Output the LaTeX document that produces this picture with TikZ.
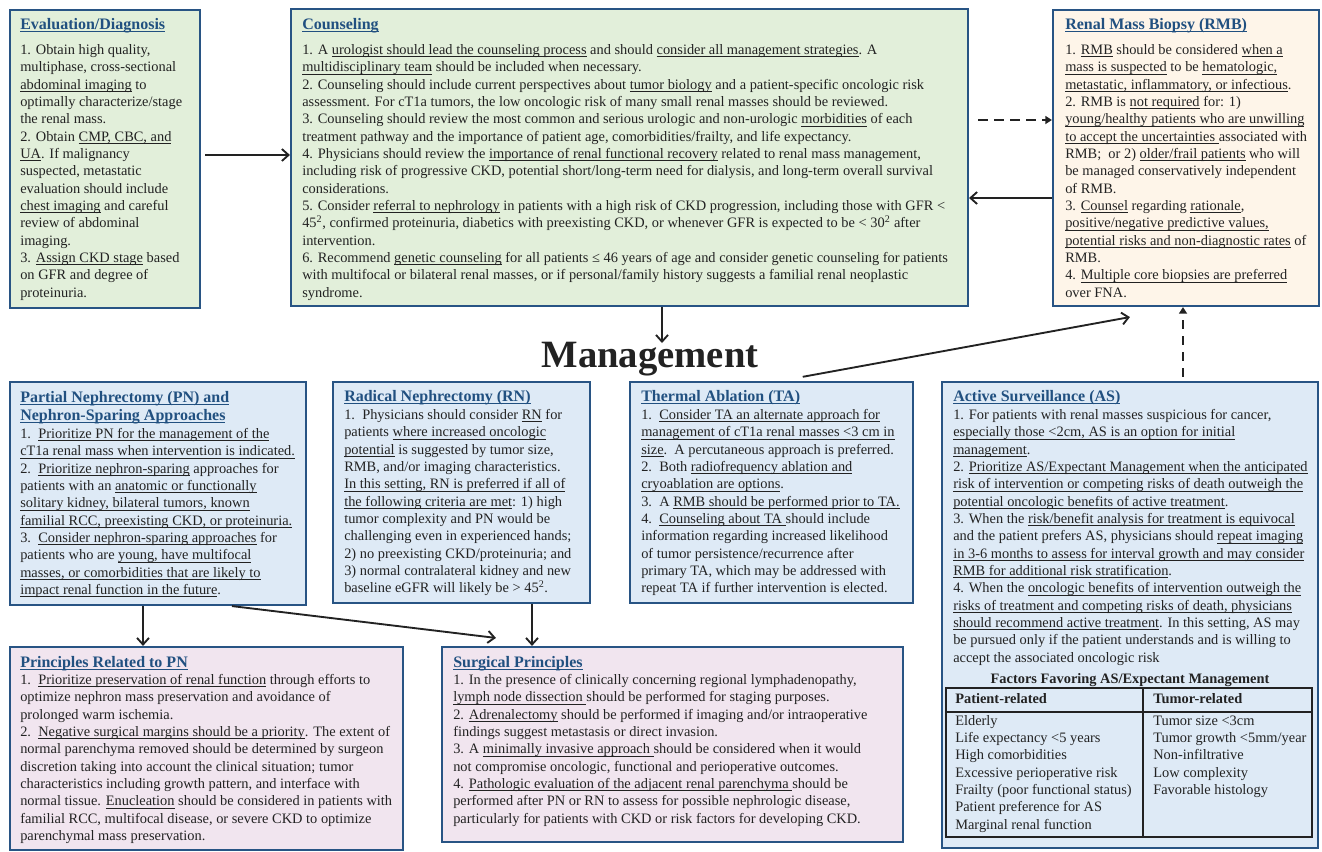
\documentclass[tikz,border=0pt]{standalone}
\usepackage{fontspec}
\setmainfont{Liberation Serif}
\usetikzlibrary{arrows.meta,fit,calc}
\newsavebox{\ulbox}
\newcommand{\uline}[1]{\sbox{\ulbox}{#1}\rlap{\rule[-1.9pt]{\wd\ulbox}{0.55pt}}\usebox{\ulbox}}
\definecolor{bordc}{RGB}{40,84,132}
\definecolor{ttlc}{RGB}{33,80,128}
\definecolor{txtc}{RGB}{34,34,34}
\definecolor{gfill}{RGB}{226,239,218}
\definecolor{pfill}{RGB}{254,245,233}
\definecolor{bfill}{RGB}{222,234,246}
\definecolor{kfill}{RGB}{241,229,239}
\newcommand{\bodyfnt}{\fontsize{10.8}{13}\selectfont}
\newcommand{\ttlfnt}{\fontsize{12}{13.7}\selectfont\bfseries}
\tikzset{
  box/.style={draw=bordc, line width=1.6pt, inner sep=0pt},
  gbox/.style={box, fill=gfill},
  pbox/.style={box, fill=pfill},
  bbox/.style={box, fill=bfill},
  kbox/.style={box, fill=kfill},
  body/.style={anchor=north west, inner sep=0pt, align=left, font=\bodyfnt, text=txtc},
  ttl/.style={anchor=base west, inner sep=0pt, font=\ttlfnt, text=ttlc},
  ttlm/.style={anchor=north west, inner sep=0pt, align=left, font=\ttlfnt, text=ttlc},
  cell/.style={anchor=base west, inner sep=0pt, font=\bodyfnt, text=txtc},
  arr/.style={line width=1.4pt, draw=txtc, -{Straight Barb[length=5pt,width=9pt]}},
  darr/.style={line width=1.4pt, draw=txtc, dash pattern=on 7pt off 5pt, -{Triangle[length=5pt,width=6pt]}},
  tbl/.style={draw=txtc, line width=1pt}
}
\begin{document}
\begin{tikzpicture}[x=0.75pt,y=-0.75pt]
\useasboundingbox (0,0) rectangle (1322,851);
% ---------- boxes ----------
\node[gbox, fit={(10,10) (200,308)}] (eval) {};
\node[gbox, fit={(291,9) (968,306)}] (couns) {};
\node[pbox, fit={(1053,10) (1319,306)}] (rmb) {};
\node[bbox, fit={(10,382) (306,605)}] (pn) {};
\node[bbox, fit={(333,382) (590,603)}] (rn) {};
\node[bbox, fit={(630,382) (913,603)}] (ta) {};
\node[bbox, fit={(942,382) (1318,848)}] (as) {};
\node[kbox, fit={(10,647) (403,850)}] (ppn) {};
\node[kbox, fit={(442,647) (903,842)}] (surg) {};
% ---------- Evaluation ----------
\node[ttl] (evalT) at (20,29.5) {\uline{Evaluation/Diagnosis}};
\node[body] (evalB) at (20,42) {\strut 1. Obtain high quality,\\
multiphase, cross-sectional\\
\uline{abdominal imaging} to\\
optimally characterize/stage\\
the renal mass.\\
2. Obtain \uline{CMP, CBC, and}\\
\uline{UA}. If malignancy\\
suspected, metastatic\\
evaluation should include\\
\uline{chest imaging} and careful\\
review of abdominal\\
imaging.\\
3. \uline{Assign CKD stage} based\\
on GFR and degree of\\
proteinuria.};
% ---------- Counseling ----------
\node[ttl] (counsT) at (302,29.5) {\uline{Counseling}};
\node[body] (counsB) at (302,42) {\strut 1. A \uline{urologist should lead the counseling process} and should \uline{consider all management strategies}. A\\
\uline{multidisciplinary team} should be included when necessary.\\
2. Counseling should include current perspectives about \uline{tumor biology} and a patient-specific oncologic risk\\
assessment. For cT1a tumors, the low oncologic risk of many small renal masses should be reviewed.\\
3. Counseling should review the most common and serious urologic and non-urologic \uline{morbidities} of each\\
treatment pathway and the importance of patient age, comorbidities/frailty, and life expectancy.\\
4. Physicians should review the \uline{importance of renal functional recovery} related to renal mass management,\\
including risk of progressive CKD, potential short/long-term need for dialysis, and long-term overall survival\\
considerations.\\
5. Consider \uline{referral to nephrology} in patients with a high risk of CKD progression, including those with GFR <\\
45\textsuperscript{2}, confirmed proteinuria, diabetics with preexisting CKD, or whenever GFR is expected to be < 30\textsuperscript{2} after\\
intervention.\\
6. Recommend \uline{genetic counseling} for all patients ≤ 46 years of age and consider genetic counseling for patients\\
with multifocal or bilateral renal masses, or if personal/family history suggests a familial renal neoplastic\\
syndrome.};
% ---------- RMB ----------
\node[ttl] (rmbT) at (1065,29.5) {\uline{Renal Mass Biopsy (RMB)}};
\node[body] (rmbB) at (1065,42) {\strut 1. \uline{RMB} should be considered \uline{when a}\\
\uline{mass is suspected} to be \uline{hematologic,}\\
\uline{metastatic, inflammatory, or infectious}.\\
2. RMB is \uline{not required} for: 1)\\
\uline{young/healthy patients who are unwilling}\\
\uline{to accept the uncertainties\ }associated with\\
RMB;\ \ or 2) \uline{older/frail patients} who will\\
be managed conservatively independent\\
of RMB.\\
3. \uline{Counsel} regarding \uline{rationale},\\
\uline{positive/negative predictive values,}\\
\uline{potential risks and non-diagnostic rates} of\\
RMB.\\
4. \uline{Multiple core biopsies are preferred}\\
over FNA.};
% ---------- Management ----------
\node[anchor=base, inner sep=0pt, text=txtc, font=\fontsize{29}{32}\selectfont\bfseries] (mgmt) at (650,367) {Management};
% ---------- PN ----------
\node[ttlm] (pnT) at (20,389) {\strut\uline{Partial Nephrectomy (PN) and}\\\uline{Nephron-Sparing Approaches}};
\node[body] (pnB) at (20,426) {\strut 1.\ \ \uline{Prioritize PN for the management of the}\\
\uline{cT1a renal mass when intervention is indicated.}\\
2.\ \ \uline{Prioritize nephron-sparing} approaches for\\
patients with an \uline{anatomic or functionally}\\
\uline{solitary kidney, bilateral tumors, known}\\
\uline{familial RCC, preexisting CKD, or proteinuria.}\\
3.\ \ \uline{Consider nephron-sparing approaches} for\\
patients who are \uline{young, have multifocal}\\
\uline{masses, or comorbidities that are likely to}\\
\uline{impact renal function in the future}.};
% ---------- RN ----------
\node[ttl] (rnT) at (344,401) {\uline{Radical Nephrectomy (RN)}};
\node[body] (rnB) at (344,407) {\strut 1.\ \ Physicians should consider \uline{RN} for\\
patients \uline{where increased oncologic}\\
\uline{potential} is suggested by tumor size,\\
RMB, and/or imaging characteristics.\\
\uline{In this setting, RN is preferred if all of}\\
\uline{the following criteria are met}: 1) high\\
tumor complexity and PN would be\\
challenging even in experienced hands;\\
2) no preexisting CKD/proteinuria; and\\
3) normal contralateral kidney and new\\
baseline eGFR will likely be > 45\textsuperscript{2}.};
% ---------- TA ----------
\node[ttl] (taT) at (641,401) {\uline{Thermal Ablation (TA)}};
\node[body] (taB) at (641,407) {\strut 1.\ \ \uline{Consider TA an alternate approach for}\\
\uline{management of cT1a renal masses <3 cm in}\\
\uline{size}.\ \ A percutaneous approach is preferred.\\
2.\ \ Both \uline{radiofrequency ablation and}\\
\uline{cryoablation are options}.\\
3.\ \ A \uline{RMB should be performed prior to TA.}\\
4.\ \ \uline{Counseling about TA\ }should include\\
information regarding increased likelihood\\
of tumor persistence/recurrence after\\
primary TA, which may be addressed with\\
repeat TA if further intervention is elected.};
% ---------- AS ----------
\node[ttl] (asT) at (953,401) {\uline{Active Surveillance (AS)}};
\node[body] (asB) at (953,407) {\strut 1. For patients with renal masses suspicious for cancer,\\
\uline{especially those <2cm, AS is an option for initial}\\
\uline{management}.\\
2. \uline{Prioritize AS/Expectant Management when the anticipated}\\
\uline{risk of intervention or competing risks of death outweigh the}\\
\uline{potential oncologic benefits of active treatment}.\\
3. When the \uline{risk/benefit analysis for treatment is equivocal}\\
and the patient prefers AS, physicians should \uline{repeat imaging}\\
\uline{in 3-6 months to assess for interval growth and may consider}\\
\uline{RMB for additional risk stratification}.\\
4. When the \uline{oncologic benefits of intervention outweigh the}\\
\uline{risks of treatment and competing risks of death, physicians}\\
\uline{should recommend active treatment}. In this setting, AS may\\
be pursued only if the patient understands and is willing to\\
accept the associated oncologic risk};
% table
\node[anchor=base, inner sep=0pt, font=\bodyfnt\bfseries, text=txtc] (tblT) at (1130,683) {Factors Favoring AS/Expectant Management};
\draw[tbl] (946,688) rectangle (1312,837);
\draw[tbl] (946,712) -- (1312,712);
\draw[tbl] (1143,688) -- (1143,837);
\node[cell, font=\bodyfnt\bfseries] (ph) at (955,703) {Patient-related};
\node[cell, font=\bodyfnt\bfseries] (th) at (1153,703) {Tumor-related};
\node[cell] (p1) at (955,725) {Elderly};
\node[cell] (p2) at (955,742.3) {Life expectancy <5 years};
\node[cell] (p3) at (955,759.7) {High comorbidities};
\node[cell] (p4) at (955,777) {Excessive perioperative risk};
\node[cell] (p5) at (955,794.3) {Frailty (poor functional status)};
\node[cell] (p6) at (955,811.7) {Patient preference for AS};
\node[cell] (p7) at (955,829) {Marginal renal function};
\node[cell] (t1) at (1153,725) {Tumor size <3cm};
\node[cell] (t2) at (1153,742.3) {Tumor growth <5mm/year};
\node[cell] (t3) at (1153,759.7) {Non-infiltrative};
\node[cell] (t4) at (1153,777) {Low complexity};
\node[cell] (t5) at (1153,794.3) {Favorable histology};
% ---------- Principles PN ----------
\node[ttl] (ppnT) at (20,667) {\uline{Principles Related to PN}};
\node[body] (ppnB) at (20,672) {\strut 1.\ \ \uline{Prioritize preservation of renal function} through efforts to\\
optimize nephron mass preservation and avoidance of\\
prolonged warm ischemia.\\
2.\ \ \uline{Negative surgical margins should be a priority}. The extent of\\
normal parenchyma removed should be determined by surgeon\\
discretion taking into account the clinical situation; tumor\\
characteristics including growth pattern, and interface with\\
normal tissue. \uline{Enucleation} should be considered in patients with\\
familial RCC, multifocal disease, or severe CKD to optimize\\
parenchymal mass preservation.};
% ---------- Surgical ----------
\node[ttl] (surgT) at (453,667) {\uline{Surgical Principles}};
\node[body] (surgB) at (453,672) {\strut 1. In the presence of clinically concerning regional lymphadenopathy,\\
\uline{lymph node dissection\ }should be performed for staging purposes.\\
2. \uline{Adrenalectomy} should be performed if imaging and/or intraoperative\\
findings suggest metastasis or direct invasion.\\
3. A \uline{minimally invasive approach\ }should be considered when it would\\
not compromise oncologic, functional and perioperative outcomes.\\
4. \uline{Pathologic evaluation of the adjacent renal parenchyma\ }should be\\
performed after PN or RN to assess for possible nephrologic disease,\\
particularly for patients with CKD or risk factors for developing CKD.};
% ---------- connectors ----------
\draw[arr, shorten <=3pt] (eval.east |- 0,155) -- (couns.west |- 0,155);
\draw[arr] (couns.south -| 662,0) -- (662,343);
\draw[darr, shorten <=7pt] (couns.east |- 0,120) -- (rmb.west |- 0,120);
\draw[arr] (rmb.west |- 0,198) -- (couns.east |- 0,198);
\draw[arr] ([shift={(44,1)}]mgmt.south east) -- ($(rmb.south west)+(78,10)$);
\draw[darr, shorten <=3pt] (as.north -| 1183,0) -- (rmb.south -| 1183,0);
\draw[arr] (pn.south -| 143,0) -- (ppn.north -| 143,0);
\draw[arr] (pn.south -| 232,0) -- ($(surg.north west)+(55,-8)$);
\draw[arr] (rn.south -| 532,0) -- (surg.north -| 532,0);
\end{tikzpicture}
\end{document}
